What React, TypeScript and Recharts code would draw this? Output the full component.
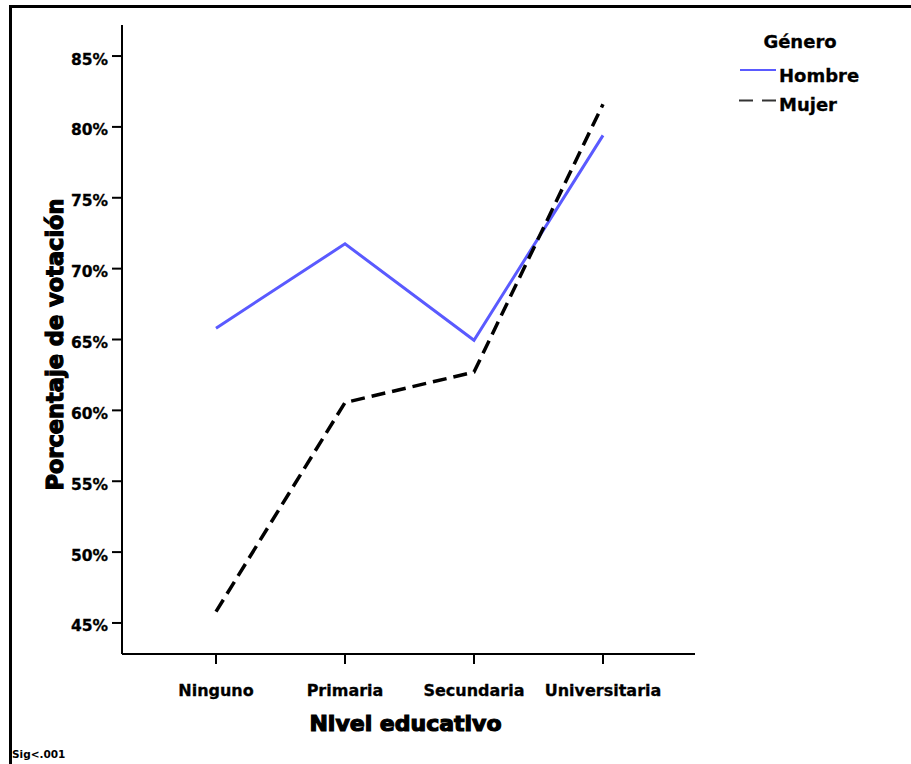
import React from "react";
import { LineChart, Line, XAxis, YAxis } from "recharts";

const niveles = ["Ninguno", "Primaria", "Secundaria", "Universitaria"];
const hombre = [65.8, 71.75, 64.95, 79.4];
const mujer = [45.8, 60.55, 62.7, 81.6];
const yTicks = [45, 50, 55, 60, 65, 70, 75, 80, 85];

const data = niveles.map((nivel, i) => ({
  nivel,
  Hombre: hombre[i],
  Mujer: mujer[i],
}));

const FONT = "'DejaVu Sans', sans-serif";
const BLUE = "#5a5aff";

// y tick labels sit a little below their tick marks in the original
function YTick(props: any) {
  const { x, y, payload } = props;
  return (
    <text
      x={x}
      y={y + 8.5}
      textAnchor="end"
      fontFamily={FONT}
      fontWeight={700}
      fontSize={15.5}
      fill="#000"
      stroke="#000"
      strokeWidth={0.3}
    >
      {`${payload.value}%`}
    </text>
  );
}

function XTick(props: any) {
  const { x, y, payload } = props;
  return (
    <text
      x={x}
      y={y + 13}
      textAnchor="middle"
      fontFamily={FONT}
      fontWeight={700}
      fontSize={16}
      fill="#000"
      stroke="#000"
      strokeWidth={0.3}
    >
      {payload.value}
    </text>
  );
}

function YTitle(props: any) {
  const vb = props.viewBox;
  const x = vb.x - 7;
  const y = vb.y + vb.height / 2 + 5;
  return (
    <text
      x={x}
      y={y}
      transform={`rotate(-90, ${x}, ${y})`}
      textAnchor="middle"
      dominantBaseline="central"
      fontFamily={FONT}
      fontWeight={700}
      fontSize={22.5}
      fill="#000"
      stroke="#000"
      strokeWidth={1.2}
    >
      Porcentaje de votación
    </text>
  );
}

function XTitle(props: any) {
  const vb = props.viewBox;
  return (
    <text
      x={vb.x + vb.width / 2 - 3}
      y={731}
      textAnchor="middle"
      fontFamily={FONT}
      fontWeight={700}
      fontSize={22}
      fill="#000"
      stroke="#000"
      strokeWidth={1.2}
    >
      Nivel educativo
    </text>
  );
}

export default function App() {
  return (
    <div
      style={{
        position: "fixed",
        left: 0,
        top: 0,
        width: 911,
        height: 764,
        overflow: "hidden",
        background: "#fff",
      }}
    >
      {/* frame, only top and left edges are visible */}
      <div
        style={{
          position: "absolute",
          left: 9,
          top: 5,
          width: 1200,
          height: 1200,
          border: "3px solid #000",
        }}
      />
      <LineChart
        width={911}
        height={764}
        data={data}
        margin={{ top: 25, right: 216, left: 62, bottom: 80 }}
      >
        <XAxis
          dataKey="nivel"
          padding={{ left: 94, right: 92 }}
          height={30}
          tickSize={10}
          tickMargin={19}
          tick={<XTick />}
          axisLine={{ stroke: "#000", strokeWidth: 2 }}
          tickLine={{ stroke: "#000", strokeWidth: 2 }}
          label={<XTitle />}
        />
        <YAxis
          width={60}
          domain={[42.81, 87.19]}
          ticks={yTicks}
          tickSize={10}
          tickMargin={4}
          tick={<YTick />}
          axisLine={{ stroke: "#000", strokeWidth: 2 }}
          tickLine={{ stroke: "#000", strokeWidth: 2 }}
          label={<YTitle />}
        />
        <Line
          dataKey="Hombre"
          type="linear"
          stroke={BLUE}
          strokeWidth={3}
          dot={false}
          activeDot={false}
          isAnimationActive={false}
        />
        <Line
          dataKey="Mujer"
          type="linear"
          stroke="#000"
          strokeWidth={3.5}
          strokeDasharray="14 7"
          dot={false}
          activeDot={false}
          isAnimationActive={false}
        />
      </LineChart>
      <svg
        width={911}
        height={764}
        style={{ position: "absolute", left: 0, top: 0, pointerEvents: "none" }}
      >
        <g fontFamily={FONT} fontWeight={700} fill="#000" stroke="#000" strokeWidth={0.3}>
          <text x={800} y={48} textAnchor="middle" fontSize={18}>
            Género
          </text>
          <text x={779} y={82} fontSize={18}>
            Hombre
          </text>
          <text x={779} y={111} fontSize={18}>
            Mujer
          </text>
        </g>
        <text x={12} y={758} fontSize={10.5} fontFamily={FONT} fontWeight={700} fill="#000">
          Sig&lt;.001
        </text>
        <line x1={740} x2={776} y1={70} y2={70} stroke={BLUE} strokeWidth={2} />
        <line
          x1={739}
          x2={777}
          y1={100.5}
          y2={100.5}
          stroke="#333"
          strokeWidth={2}
          strokeDasharray="14 9"
        />
      </svg>
    </div>
  );
}
